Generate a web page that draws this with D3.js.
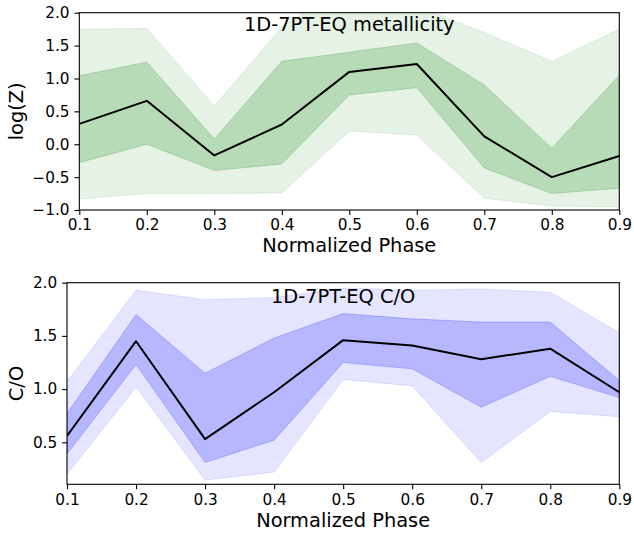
<!DOCTYPE html>
<html>
<head>
<meta charset="utf-8">
<script src="https://cdn.jsdelivr.net/npm/d3@7"></script>
<style>
  html, body { margin: 0; padding: 0; background: #fff; }
  svg { display: block; font-family: "DejaVu Sans", sans-serif; }
</style>
</head>
<body>
<svg id="fig" width="634" height="533"></svg>
<script>
// Phase grid shared by both panels
const phase = [0.1, 0.2, 0.3, 0.4, 0.5, 0.6, 0.7, 0.8, 0.9];
const phaseTicks = [0.1, 0.2, 0.3, 0.4, 0.5, 0.6, 0.7, 0.8, 0.9];

// Metallicity retrieval: median and 1σ / 2σ envelopes
const metMedian = [0.31, 0.66, -0.17, 0.30, 1.10, 1.22, 0.12, -0.50, -0.18];
const met1Hi = [1.04, 1.25, 0.08, 1.26, 1.40, 1.54, 0.90, -0.06, 1.05];
const met1Lo = [-0.28, 0.00, -0.40, -0.30, 0.75, 0.86, -0.36, -0.75, -0.67];
const met2Hi = [1.75, 1.76, 0.58, 1.78, 2.45, 2.10, 1.70, 1.26, 1.75];
const met2Lo = [-0.83, -0.75, -0.75, -0.74, 0.20, 0.14, -0.82, -0.94, -0.95];
const metTicks = [-1.0, -0.5, 0.0, 0.5, 1.0, 1.5, 2.0];

// C/O retrieval: median and 1σ / 2σ envelopes
const coMedian = [0.56, 1.45, 0.53, 0.97, 1.46, 1.41, 1.28, 1.38, 0.97];
const co1Hi = [0.77, 1.70, 1.15, 1.48, 1.71, 1.66, 1.63, 1.63, 1.08];
const co1Lo = [0.39, 1.23, 0.31, 0.52, 1.25, 1.19, 0.83, 1.12, 0.92];
const co2Hi = [1.07, 1.93, 1.84, 1.86, 1.95, 1.93, 1.94, 1.91, 1.53];
const co2Lo = [0.20, 1.02, 0.145, 0.22, 1.09, 1.03, 0.31, 0.79, 0.74];
const coTicks = [0.5, 1.0, 1.5, 2.0];

const svg = d3.select("#fig");
const fmt = d3.format(".1f");

function panel(cfg) {
  const {id, left, right, top, bottom, ydom, yticks, median, hi1, lo1, hi2, lo2,
         fill, title, titleDy, ylabel} = cfg;
  const x = d3.scaleLinear().domain([0.1, 0.9]).range([left, right]);
  const y = d3.scaleLinear().domain(ydom).range([bottom, top]);
  const g = svg.append("g");

  g.append("clipPath").attr("id", id)
    .append("rect").attr("x", left).attr("y", top)
    .attr("width", right - left).attr("height", bottom - top);

  const plot = g.append("g").attr("clip-path", `url(#${id})`);
  const band = (hi, lo) => d3.area()
    .x((d, i) => x(phase[i])).y0((d, i) => y(lo[i])).y1((d, i) => y(hi[i]))(phase);

  // 2σ band, then 1σ band on top
  plot.append("path").attr("d", band(hi2, lo2))
    .attr("fill", fill).attr("fill-opacity", 0.1)
    .attr("stroke", fill).attr("stroke-opacity", 0.1).attr("stroke-width", 1);
  plot.append("path").attr("d", band(hi1, lo1))
    .attr("fill", fill).attr("fill-opacity", 0.2)
    .attr("stroke", fill).attr("stroke-opacity", 0.2).attr("stroke-width", 1);

  plot.append("path")
    .attr("d", d3.line().x((d, i) => x(phase[i])).y((d, i) => y(median[i]))(phase))
    .attr("fill", "none").attr("stroke", "#000").attr("stroke-width", 2)
    .attr("stroke-linejoin", "round");

  const xa = g.append("g").attr("transform", `translate(0,${bottom})`)
    .call(d3.axisBottom(x).tickValues(phaseTicks).tickFormat(fmt)
      .tickSize(4.9).tickPadding(4.9));
  const ya = g.append("g").attr("transform", `translate(${left},0)`)
    .call(d3.axisLeft(y).tickValues(yticks).tickFormat(fmt)
      .tickSize(4.9).tickPadding(4.9));
  [xa, ya].forEach(a => {
    a.select(".domain").remove();
    a.selectAll("line").attr("stroke", "#000").attr("stroke-width", 1.1);
    a.selectAll("text").attr("fill", "#000").style("font-size", "15.3px")
      .style("font-family", "DejaVu Sans");
  });
  xa.selectAll("text").attr("dy", "0.68em");

  g.append("rect").attr("x", left).attr("y", top)
    .attr("width", right - left).attr("height", bottom - top)
    .attr("fill", "none").attr("stroke", "#000").attr("stroke-width", 1.1);

  g.append("text").attr("x", (left + right) / 2).attr("y", top + titleDy)
    .attr("text-anchor", "middle").style("font-size", "19.4px").text(title);

  g.append("text").attr("x", (left + right) / 2).attr("y", bottom + 42.3)
    .attr("text-anchor", "middle").style("font-size", "19.4px").text("Normalized Phase");

  g.append("text")
    .attr("transform", `translate(23,${(top + bottom) / 2}) rotate(-90)`)
    .attr("text-anchor", "middle").style("font-size", "19.4px").text(ylabel);
}

panel({
  id: "clipMet", left: 79.3, right: 619.3, top: 12.7, bottom: 210,
  ydom: [-1, 2], yticks: metTicks,
  median: metMedian, hi1: met1Hi, lo1: met1Lo, hi2: met2Hi, lo2: met2Lo,
  fill: "#008000", title: "1D-7PT-EQ metallicity", titleDy: 18.5, ylabel: "log(Z)"
});

panel({
  id: "clipCO", left: 67, right: 619.3, top: 282.7, bottom: 484.3,
  ydom: [0.105, 2], yticks: coTicks,
  median: coMedian, hi1: co1Hi, lo1: co1Lo, hi2: co2Hi, lo2: co2Lo,
  fill: "#0000ff", title: "1D-7PT-EQ C/O", titleDy: 20, ylabel: "C/O"
});
</script>
</body>
</html>
